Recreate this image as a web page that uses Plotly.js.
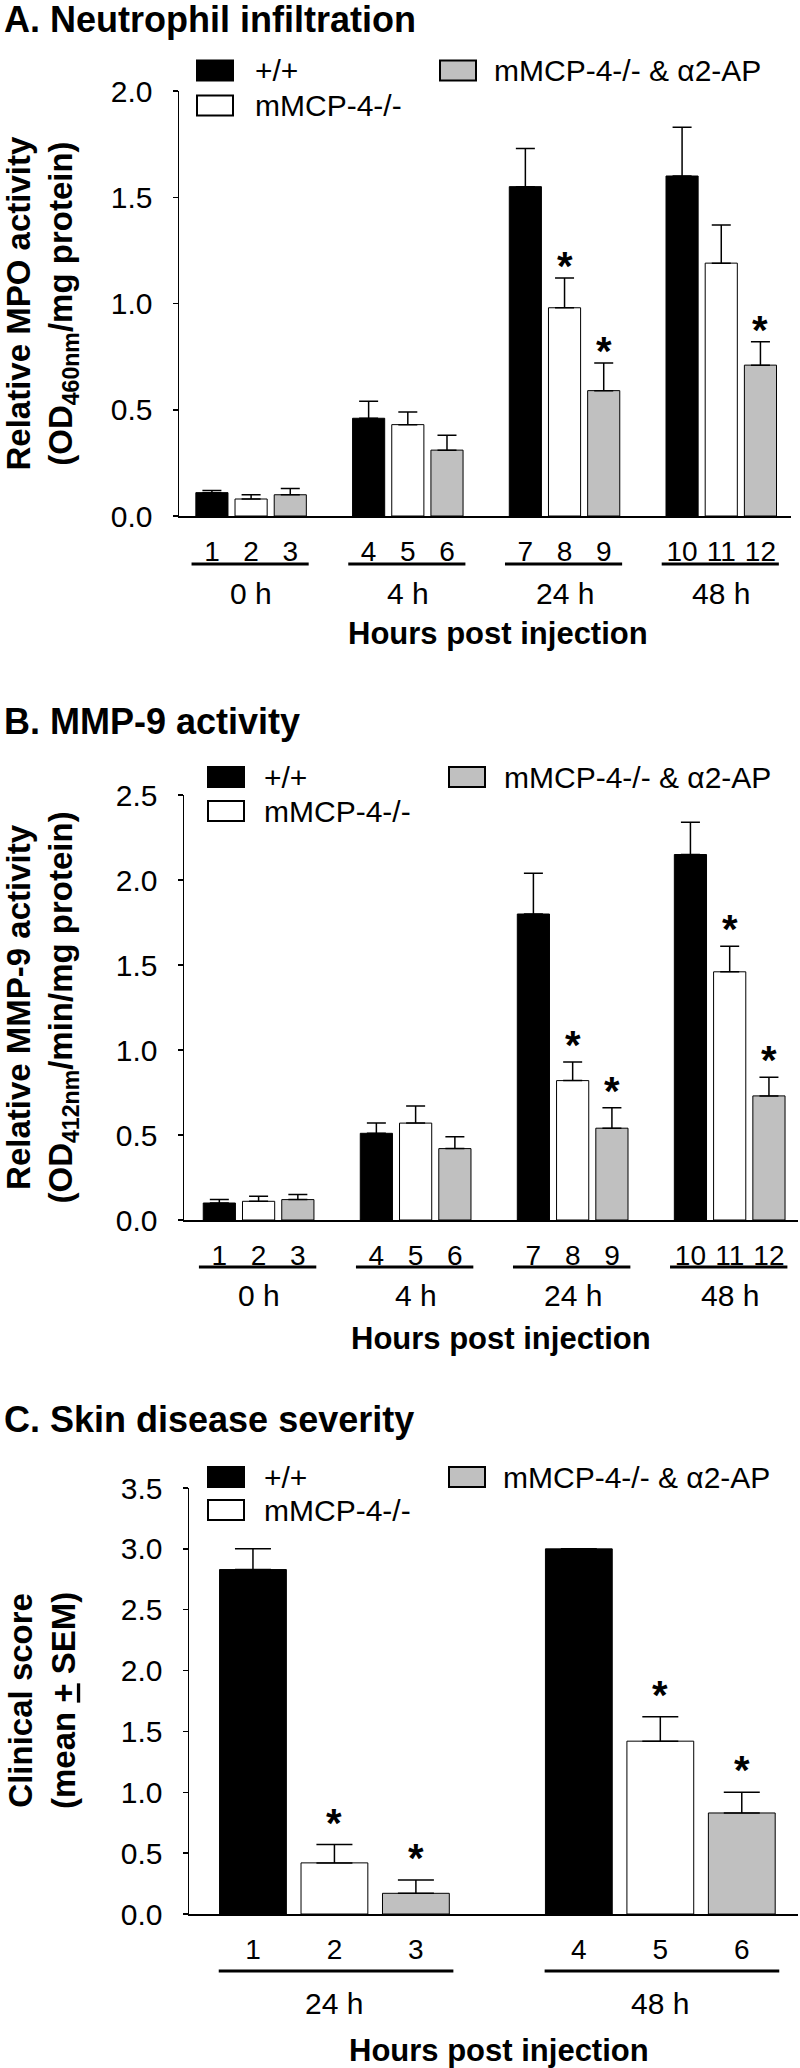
<!DOCTYPE html>
<html>
<head>
<meta charset="utf-8">
<script src="https://cdn.plot.ly/plotly-3.0.1.min.js"></script>
<style>
html,body{margin:0;padding:0;background:#fff;}
#chart{width:800px;height:2068px;}
</style>
</head>
<body>
<div id="chart"></div>
<script>
// ---------------- DATA ----------------
const seriesNames = ['+/+', 'mMCP-4-/-', 'mMCP-4-/- & \u03b12-AP'];

// Panel A: MPO activity
const mpoGroups = ['0 h', '4 h', '24 h', '48 h'];
const mpoTickLabels = ['1','2','3','4','5','6','7','8','9','10','11','12'];
const mpoWT = [0.11, 0.46, 1.55, 1.60];
const mpoWTErr = [0.01, 0.08, 0.18, 0.23];
const mpoKO = [0.08, 0.43, 0.98, 1.19];
const mpoKOErr = [0.02, 0.06, 0.14, 0.18];
const mpoAP = [0.10, 0.31, 0.59, 0.71];
const mpoAPErr = [0.03, 0.07, 0.13, 0.11];
const mpoSigWT = [];
const mpoSigKO = [2];
const mpoSigAP = [2, 3];

// Panel B: MMP-9 activity
const mmpGroups = ['0 h', '4 h', '24 h', '48 h'];
const mmpTickLabels = ['1','2','3','4','5','6','7','8','9','10','11','12'];
const mmpWT = [0.10, 0.51, 1.80, 2.15];
const mmpWTErr = [0.02, 0.06, 0.24, 0.19];
const mmpKO = [0.11, 0.57, 0.82, 1.46];
const mmpKOErr = [0.03, 0.10, 0.11, 0.15];
const mmpAP = [0.12, 0.42, 0.54, 0.73];
const mmpAPErr = [0.03, 0.07, 0.12, 0.11];
const mmpSigWT = [];
const mmpSigKO = [2, 3];
const mmpSigAP = [2, 3];

// Panel C: clinical score
const skinGroups = ['24 h', '48 h'];
const skinTickLabels = ['1','2','3','4','5','6'];
const skinWT = [2.83, 3.00];
const skinWTErr = [0.17, 0.00];
const skinKO = [0.42, 1.42];
const skinKOErr = [0.15, 0.20];
const skinAP = [0.17, 0.83];
const skinAPErr = [0.11, 0.17];
const skinSigWT = [];
const skinSigKO = [0, 1];
const skinSigAP = [0, 1];

// ---------------- LAYOUT HELPERS ----------------
const W = 800, H = 2068;
const px = v => v / W;
const py = v => 1 - v / H;
const FONT = 'Liberation Sans, Arial, Helvetica, sans-serif';
const fills = ['#000000', '#ffffff', '#c0c0c0'];

const panels = [
  {
    key: '', title: 'A. Neutrophil infiltration', titleY: 19,
    ytitle: 'Relative MPO activity<br>(OD<sub>460nm</sub>/mg protein)',
    left: 179, right: 791, top: 91, bottom: 516, xr: [-0.84, 14.78], yr: [0, 2],
    groups: mpoGroups, ticks: mpoTickLabels,
    vals: [mpoWT, mpoKO, mpoAP], errs: [mpoWTErr, mpoKOErr, mpoAPErr], sig: [mpoSigWT, mpoSigKO, mpoSigAP],
    capW: 9.5, lineY: 564, groupY: 593, xtitleY: 633, xtitleX: 498, starShift: 12,
    lineL: -0.52, lineR: 0.47,
    leg: {bx: 197, gx: 440, y1: 70.5, y2: 105.5, tx: 253, gtx: 492}
  },
  {
    key: '2', title: 'B. MMP-9 activity', titleY: 722,
    ytitle: 'Relative MMP-9 activity<br>(OD<sub>412nm</sub>/min/mg protein)',
    left: 184, right: 798, top: 795, bottom: 1220, xr: [-0.9, 14.74], yr: [0, 2.5],
    groups: mmpGroups, ticks: mmpTickLabels,
    vals: [mmpWT, mmpKO, mmpAP], errs: [mmpWTErr, mmpKOErr, mmpAPErr], sig: [mmpSigWT, mmpSigKO, mmpSigAP],
    capW: 9.5, lineY: 1267, groupY: 1295, xtitleY: 1338, xtitleX: 501, starShift: 17,
    lineL: -0.52, lineR: 0.47,
    leg: {bx: 208, gx: 449, y1: 777, y2: 811, tx: 262, gtx: 502}
  },
  {
    key: '3', title: 'C. Skin disease severity', titleY: 1419,
    ytitle: 'Clinical score<br>(mean <u>+</u> SEM)',
    left: 189, right: 798, top: 1488, bottom: 1914, xr: [-0.785, 6.69], yr: [0, 3.5],
    groups: skinGroups, ticks: skinTickLabels,
    vals: [skinWT, skinKO, skinAP], errs: [skinWTErr, skinKOErr, skinAPErr], sig: [skinSigWT, skinSigKO, skinSigAP],
    capW: 18, lineY: 1971, groupY: 2003, xtitleY: 2050, xtitleX: 499, starShift: 22,
    lineL: -0.42, lineR: 0.46,
    leg: {bx: 208, gx: 449, y1: 1477, y2: 1510, tx: 262, gtx: 501}
  }
];

const traces = [];
const shapes = [];
const annotations = [];
const layout = {
  width: W, height: H,
  margin: {l: 0, r: 0, t: 0, b: 0, pad: 0},
  paper_bgcolor: '#ffffff', plot_bgcolor: '#ffffff',
  showlegend: false,
  font: {family: FONT, color: '#000', size: 30},
  bargap: 0
};

panels.forEach(p => {
  const xa = 'x' + p.key, ya = 'y' + p.key;
  const nG = p.groups.length;
  const tickvals = [];
  for (let g = 0; g < nG; g++) for (let s = 0; s < 3; s++) tickvals.push(g * 4 + s);

  layout['xaxis' + p.key] = {
    domain: [px(p.left), px(p.right)], range: p.xr, anchor: ya,
    showline: true, linecolor: '#000', linewidth: 1.5, ticks: '',
    tickmode: 'array', tickvals: tickvals, ticktext: p.ticks,
    tickfont: {family: FONT, size: 28, color: '#000'},
    ticklabelstandoff: 10,
    showgrid: false, zeroline: false, automargin: false, fixedrange: true
  };
  layout['yaxis' + p.key] = {
    domain: [py(p.bottom), py(p.top)], range: p.yr, anchor: xa,
    showline: true, linecolor: '#000', linewidth: 1.5,
    ticks: 'outside', ticklen: 5, tickwidth: 1.5, tickcolor: '#000',
    dtick: 0.5, tick0: 0, tickformat: '.1f',
    tickfont: {family: FONT, size: 30, color: '#000'},
    ticklabelstandoff: 14,
    showgrid: false, zeroline: false, automargin: false, fixedrange: true
  };

  for (let s = 0; s < 3; s++) {
    const xs = p.vals[s].map((v, g) => g * 4 + s);
    traces.push({
      type: 'bar', x: xs, y: p.vals[s], xaxis: xa, yaxis: ya, width: 0.82,
      name: seriesNames[s],
      marker: {color: fills[s], line: {color: '#000', width: 1}},
      error_y: {type: 'data', symmetric: false, array: p.errs[s], arrayminus: p.errs[s].map(() => 0),
                color: '#000', thickness: 1.5, width: p.capW, visible: true},
      hoverinfo: 'skip'
    });
    p.sig[s].forEach(g => {
      annotations.push({
        xref: xa, yref: ya, x: g * 4 + s, y: p.vals[s][g] + p.errs[s][g],
        text: '*', showarrow: false, yanchor: 'middle', xanchor: 'center', yshift: p.starShift,
        font: {family: FONT, size: 40, color: '#000', weight: 'bold'}
      });
    });
  }

  // group underline + group label
  p.groups.forEach((lab, g) => {
    shapes.push({type: 'line', xref: xa, yref: 'paper',
      x0: g * 4 + p.lineL, x1: g * 4 + 2 + p.lineR, y0: py(p.lineY), y1: py(p.lineY),
      line: {color: '#000', width: 3}});
    annotations.push({xref: xa, yref: 'paper', x: g * 4 + 1, y: py(p.groupY), text: lab,
      showarrow: false, xanchor: 'center', yanchor: 'middle', font: {family: FONT, size: 30, color: '#000'}});
  });

  // x title
  annotations.push({xref: 'paper', yref: 'paper', x: px(p.xtitleX), y: py(p.xtitleY),
    text: '<b>Hours post injection</b>', showarrow: false, xanchor: 'center', yanchor: 'middle',
    font: {family: FONT, size: 31, color: '#000'}});
  // y title
  annotations.push({xref: 'paper', yref: 'paper', x: px(42), y: py((p.top + p.bottom) / 2),
    text: '<b>' + p.ytitle + '</b>', showarrow: false, textangle: -90, xanchor: 'center', yanchor: 'middle',
    font: {family: FONT, size: 33, color: '#000'}});
  // panel title
  annotations.push({xref: 'paper', yref: 'paper', x: px(2), y: py(p.titleY),
    text: '<b>' + p.title + '</b>', showarrow: false, xanchor: 'left', yanchor: 'middle',
    font: {family: FONT, size: 36, color: '#000'}});

  // legend
  const L = p.leg;
  const boxes = [[L.bx, L.y1], [L.bx, L.y2], [L.gx, L.y1]];
  const texts = [[L.tx, L.y1], [L.tx, L.y2], [L.gtx, L.y1]];
  for (let s = 0; s < 3; s++) {
    const [bx, by] = boxes[s];
    shapes.push({type: 'rect', xref: 'paper', yref: 'paper',
      x0: px(bx), x1: px(bx + 36), y0: py(by - 10), y1: py(by + 10),
      fillcolor: fills[s], line: {color: '#000', width: 2}});
    annotations.push({xref: 'paper', yref: 'paper', x: px(texts[s][0]), y: py(texts[s][1]),
      text: seriesNames[s], showarrow: false, xanchor: 'left', yanchor: 'middle',
      font: {family: FONT, size: 30, color: '#000'}});
  }
});

layout.shapes = shapes;
layout.annotations = annotations;

Plotly.newPlot('chart', traces, layout, {staticPlot: true, displayModeBar: false});
</script>
</body>
</html>
